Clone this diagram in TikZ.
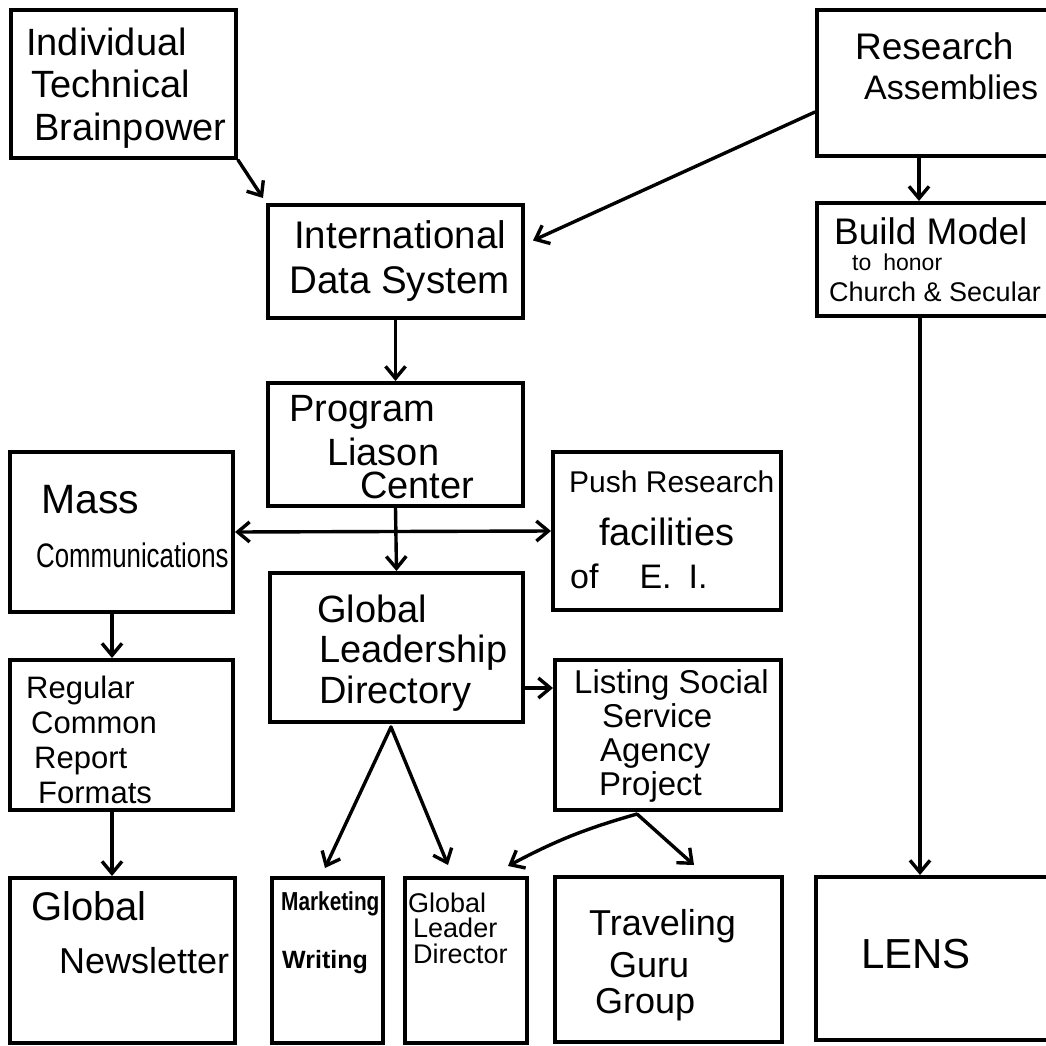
\documentclass[tikz,border=0pt]{standalone}
\usepackage{fontspec}
\usepackage{graphicx}
\setmainfont{Liberation Sans}
\usetikzlibrary{calc,arrows.meta}

\newcommand\fsz[2]{\fontsize{#1}{#2}\selectfont}

\begin{document}
\begin{tikzpicture}[x=1pt,y=-1pt,
  box/.style={draw, line width=4pt, inner sep=0pt},
  % text nodes are placed by the baseline of their last line
  txt/.style={anchor=base west, inner sep=0pt, align=left},
  arr/.style={line width=3.4pt, line cap=round, -{Straight Barb[length=12pt,width=20pt]}},
  dbl/.style={line width=3.4pt, {Straight Barb[length=12pt,width=20pt]}-{Straight Barb[length=12pt,width=20pt]}}
]
\fill[white] (0,0) rectangle (1046,1046);
\useasboundingbox (0,0) rectangle (1046,1046);

% boxes
\node[box, minimum width=225pt, minimum height=148pt] (itb)  at (123.5,84)   {};
\node[box, minimum width=253pt, minimum height=146pt] (ra)   at (943.5,83)   {};
\node[box, minimum width=255pt, minimum height=113pt] (ids)  at (395.5,261.5) {};
\node[box, minimum width=253pt, minimum height=113pt] (bm)   at (943.5,259.5) {};
\node[box, minimum width=255pt, minimum height=123pt] (plc)  at (395.5,444.5) {};
\node[box, minimum width=223pt, minimum height=160pt] (mc)   at (121.5,532)  {};
\node[box, minimum width=228pt, minimum height=158pt] (prf)  at (667,531)    {};
\node[box, minimum width=253pt, minimum height=149pt] (gld)  at (396.5,647.5) {};
\node[box, minimum width=223pt, minimum height=150pt] (rcrf) at (121.5,735)  {};
\node[box, minimum width=226pt, minimum height=150pt] (lss)  at (668,735)    {};
\node[box, minimum width=225pt, minimum height=165pt] (gn)   at (122.5,960.5) {};
\node[box, minimum width=111pt, minimum height=165pt] (mw)   at (327.5,960.5) {};
\node[box, minimum width=122pt, minimum height=165pt] (gldr) at (466,960.5)  {};
\node[box, minimum width=227pt, minimum height=165pt] (tgg)  at (668.5,959.5) {};
\node[box, minimum width=254pt, minimum height=163pt] (lens) at (943,958.5)  {};

% texts
\node[txt, font=\fsz{38}{42.5}] (itb-t) at (26,140)
  {Individual\\\hspace*{5pt}Technical\\\hspace*{8pt}Brainpower};
\node[txt, font=\fsz{34}{40}] (ra-t) at (855,100)
  {{\fsz{37}{37}Research}\\\hspace*{9pt}Assemblies};
\node[txt, font=\fsz{38.5}{45}] (ids-t) at (289,293)
  {\hspace*{5pt}International\\Data System};
\node[txt, font=\fsz{27}{26}] (bm-t) at (829,301)
  {\hspace*{5pt}{\fsz{37}{37}Build Model}\\\hspace*{23pt}{\fsz{23}{23}to\hspace{12pt}honor}\\[5pt]Church \& Secular};
\node[txt, font=\fsz{38}{44}] (plc-t) at (289,498)
  {Program\\\hspace*{38pt}Liason\\[-11pt]\hspace*{71pt}Center};
\node[txt, font=\fsz{41}{54}] (mc-t) at (36,567)
  {\hspace*{5pt}Mass\\\scalebox{0.76}[1]{\fsz{34}{34}Communications}};
\node[txt, font=\fsz{38}{40.5}] (gld-t) at (317,703)
  {Global\\\hspace*{2pt}Leadership\\\hspace*{2pt}Directory};
\node[txt, font=\fsz{31}{35}] (rcrf-t) at (26,803)
  {Regular\\\hspace*{5pt}Common\\\hspace*{8pt}Report\\\hspace*{12pt}Formats};
\node[txt, font=\fsz{34}{53}] (prf-t) at (569,588)
  {{\fsz{30}{30}Push Research}\\\hspace*{30pt}{\fsz{38}{38}facilities}\\[-10pt]\hspace*{1pt}of\hspace{41pt}E.\hspace{17pt}I.};
\node[txt, font=\fsz{33}{34}] (lss-t) at (574,795)
  {Listing Social\\\hspace*{28pt}Service\\\hspace*{26pt}Agency\\\hspace*{25pt}Project};
\node[txt, font=\fsz{36}{53}] (gn-t) at (31,973)
  {{\fsz{40}{40}Global}\\\hspace*{28pt}Newsletter};
\node[txt, font=\bfseries\fsz{25}{58}] (mw-t) at (281,968)
  {\scalebox{0.8}[1]{\fsz{26}{26}Marketing}\\\hspace*{1pt}Writing};
\node[txt, font=\fsz{27}{25.5}] (gldr-t) at (408,963)
  {Global\\\hspace*{5pt}Leader\\\hspace*{5pt}Director};
\node[txt, font=\fsz{36}{42}] (tgg-t) at (589,1013)
  {Traveling\\\hspace*{20pt}Guru\\[-6pt]\hspace*{6pt}Group};
\node[txt, font=\fsz{42}{42}] (lens-t) at (861,968) {LENS};

% connectors
\draw[arr] (itb.south east) -- ($(ids.north west)+(-3,-5)$);
\draw[arr] ($(ra.west)+(0,29)$) -- ($(ids.east)+(8,-21)$);
\draw[arr] ($(ra.south west)+(104,0)$) -- ($(bm.north west)+(104,0)$);
\draw[arr] ($(bm.south west)+(105,0)$) -- ($(lens.north west)+(106,0)$);
\draw[arr] (ids.south) -- (plc.north);
\draw[arr] (plc.south) -- (gld.north);
\draw[dbl] (mc.east) -- (prf.west);
\draw[arr] ($(mc.south)+(-9.5,0)$) -- ($(rcrf.north)+(-9.5,0)$);
\draw[arr] ($(rcrf.south)+(-9.5,0)$) -- ($(gn.north)+(-10.5,0)$);
\draw[arr] ($(gld.east)+(0,40.5)$) -- ($(lss.west)+(0,-47)$);
\coordinate (gld-apex) at ($(gld.south)+(-5.5,3)$);
\draw[arr] (gld-apex) -- ($(mw.north)+(-2.5,-8)$);
\draw[arr] (gld-apex) -- ($(gldr.north)+(-18,-11)$);
\coordinate (lss-apex) at ($(lss.south)+(-31,2)$);
\draw[arr] (lss-apex) to[bend right=6] ($(gldr.north east)+(-21,-10)$);
\draw[arr] (lss-apex) -- ($(tgg.north)+(25.5,-10)$);
\end{tikzpicture}
\end{document}
